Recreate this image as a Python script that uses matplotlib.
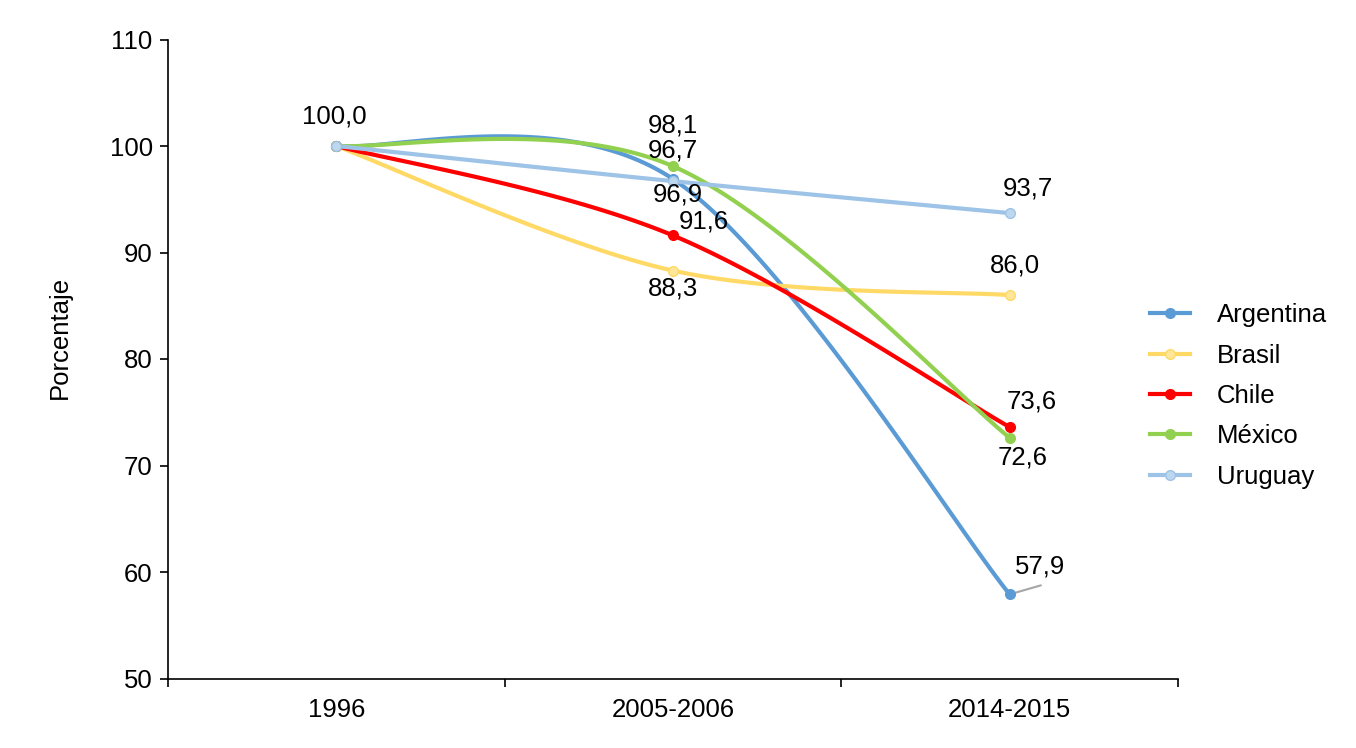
import numpy as np
import matplotlib
matplotlib.use("Agg")
import matplotlib.pyplot as plt

plt.rcParams['font.family'] = ['Liberation Sans', 'DejaVu Sans']

periodos = ["1996", "2005-2006", "2014-2015"]
paises = ["Argentina", "Brasil", "Chile", "México", "Uruguay"]
argentina = [100.0, 96.9, 57.9]
brasil = [100.0, 88.3, 86.0]
chile = [100.0, 91.6, 73.6]
mexico = [100.0, 98.1, 72.6]
uruguay = [100.0, 96.7, 93.7]

series = [argentina, brasil, chile, mexico, uruguay]
colores = ["#5B9BD5", "#FFD966", "#FF0000", "#92D050", "#9DC3E6"]
relleno = ["#5B9BD5", "#FFE699", "#FF0000", "#92D050", "#BDD7EE"]

FS = 18.5


def suavizar(xs, ys, n=60):
    # curva tipo Excel: bezier cubica con tangentes de Catmull-Rom
    p = np.column_stack([xs, ys]).astype(float)
    m = len(p)
    out = []
    for i in range(m - 1):
        p0 = p[max(i - 1, 0)]
        p1 = p[i]
        p2 = p[i + 1]
        p3 = p[min(i + 2, m - 1)]
        c1 = p1 + (p2 - p0) / 6
        c2 = p2 - (p3 - p1) / 6
        t = np.linspace(0, 1, n)[:, None]
        seg = ((1 - t) ** 3) * p1 + 3 * ((1 - t) ** 2) * t * c1 + 3 * (1 - t) * t ** 2 * c2 + t ** 3 * p2
        out.append(seg)
    out = np.vstack(out)
    return out[:, 0], out[:, 1]


fig = plt.figure(figsize=(13.56, 7.48), dpi=100)
ax = fig.add_axes([168 / 1356, 1 - 678.5 / 748, (1178 - 168) / 1356, (678.5 - 39.5) / 748])

x = np.arange(len(periodos))
for vals, col, fc, nombre in zip(series, colores, relleno, paises):
    sx, sy = suavizar(x, vals)
    ax.plot(sx, sy, color=col, lw=3, solid_capstyle='round', zorder=2)
    ax.plot(x, vals, ls='none', marker='o', ms=7, color=col, mfc=fc, mec=col, mew=1, zorder=3)
    ax.plot([], [], color=col, lw=3, marker='o', ms=7, mfc=fc, mec=col, label=nombre)

# etiquetas de datos (offsets en puntos)
etiquetas = [
    (0, argentina[0], (-1.5, 21), "100,0"),
    (1, mexico[1], (0, 29), "98,1"),
    (1, uruguay[1], (0, 22), "96,7"),
    (1, argentina[1], (3.5, -11.5), "96,9"),
    (1, chile[1], (22, 10), "91,6"),
    (1, brasil[1], (0, -13), "88,3"),
    (2, uruguay[2], (13, 18), "93,7"),
    (2, brasil[2], (3.5, 21), "86,0"),
    (2, chile[2], (16, 18.5), "73,6"),
    (2, mexico[2], (9.5, -14), "72,6"),
    (2, argentina[2], (22, 20), "57,9"),
]
for xi, yi, off, txt in etiquetas:
    ax.annotate(txt, (xi, yi), xytext=off, textcoords='offset points',
                ha='center', va='center', fontsize=FS, color='#000000', zorder=4)

# linea guia de la etiqueta 57,9
ax.annotate("", xy=(2, argentina[2]), xytext=(22.5, 6.5), textcoords='offset points',
            arrowprops=dict(arrowstyle='-', color='#A6A6A6', lw=1.5, shrinkA=0, shrinkB=4), zorder=2)

ax.set_xlim(-0.5, 2.5)
ax.set_ylim(50, 110)
ax.set_yticks(np.arange(50, 111, 10))
ax.set_xticks(x)
ax.set_xticklabels(periodos)
ax.set_xticks([-0.5, 0.5, 1.5, 2.5], minor=True)
ax.tick_params(axis='x', which='major', length=0, labelsize=FS, pad=14)
ax.tick_params(axis='x', which='minor', length=6, direction='out', width=1.2)
ax.tick_params(axis='y', length=6, direction='out', width=1.2, labelsize=FS, pad=5)
for s in ['top', 'right']:
    ax.spines[s].set_visible(False)
for s in ['left', 'bottom']:
    ax.spines[s].set_linewidth(1.2)
    ax.spines[s].set_color('#000000')

fig.text(60 / 1356, 1 - 337 / 748, "Porcentaje", rotation=90, ha='center', va='center', fontsize=FS)

ax.legend(loc='center left', bbox_to_anchor=(1127 / 1356, 1 - 396 / 748), bbox_transform=fig.transFigure,
          frameon=False, fontsize=FS, handlelength=1.55, handletextpad=1.05, labelspacing=0.64)

fig.savefig("out.png", dpi=100)
